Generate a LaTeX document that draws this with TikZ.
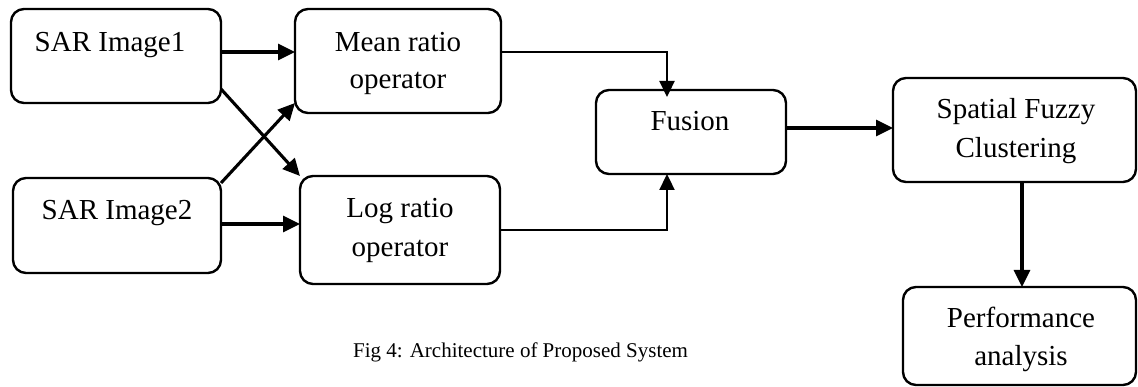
\documentclass[tikz,border=0pt]{standalone}
\usepackage{fontspec}
\setmainfont{Liberation Serif}
\usetikzlibrary{arrows.meta}
\tikzset{
  box/.style={draw=black, line width=2.4pt, rounded corners=13pt, inner sep=0pt, outer sep=0pt, fill=white},
  lbl/.style={anchor=base, inner sep=0pt, font=\fontsize{29}{37}\selectfont},
  captxt/.style={anchor=base west, inner sep=0pt, font=\fontsize{21}{25}\selectfont},
  arr/.style={line width=3.1pt, -{Triangle[length=17pt,width=16pt]}},
  thinarr/.style={line width=2.3pt, -{Triangle[length=16pt,width=15pt]}}
}
\begin{document}
\begin{tikzpicture}[x=1pt,y=-1pt]
\useasboundingbox (0,0) rectangle (1138,387);
% boxes
\node[box, minimum width=210pt, minimum height=94pt] (s1) at (116,56) {};
\node[box, minimum width=208pt, minimum height=95pt] (s2) at (117,225.5) {};
\node[box, minimum width=206pt, minimum height=104pt] (mean) at (398,61) {};
\node[box, minimum width=200pt, minimum height=108pt] (log) at (400,230) {};
\node[box, minimum width=190pt, minimum height=84pt] (fus) at (691,132) {};
\node[box, minimum width=243pt, minimum height=104pt] (sfc) at (1014.5,130) {};
\node[box, minimum width=233pt, minimum height=98pt] (perf) at (1019.5,336) {};
% texts
\node[lbl] (t1) at (110,52) {SAR Image1};
\node[lbl] (t2) at (117,220) {SAR Image2};
\node[lbl] (tm1) at (398,52) {Mean ratio};
\node[lbl] (tm2) at (398,89) {operator};
\node[lbl] (tl1) at (400,218) {Log ratio};
\node[lbl] (tl2) at (400,257) {operator};
\node[lbl] (tf) at (690,131) {Fusion};
\node[lbl] (ts1) at (1016,119) {Spatial Fuzzy};
\node[lbl] (ts2) at (1016,158) {Clustering};
\node[lbl] (tp1) at (1021,328) {Performance};
\node[lbl] (tp2) at (1021,365) {analysis};
\node[captxt] (caption) at (353,358) {Fig 4: Architecture of Proposed System};
% connectors
\draw[arr] ([yshift=4pt]s1.east) -- ([yshift=4pt]s1.east -| mean.west);
\draw[arr] ([yshift=-33pt]s1.east) -- (log.north west);
\draw[arr] ([yshift=-5pt]s2.north east) -- ([yshift=10pt]mean.south west);
\draw[arr] ([yshift=1.5pt]s2.east) -- ([yshift=1.5pt]s2.east -| log.west);
\draw[thinarr] ([yshift=9pt]mean.east) -| ([xshift=-24pt,yshift=-7pt]fus.north);
\draw[thinarr] (log.east) -| ([xshift=-24pt]fus.south);
\draw[arr] ([yshift=4pt]fus.east) -- ([yshift=4pt]fus.east -| sfc.west);
\draw[arr] ([xshift=7.5pt]sfc.south) -- ([xshift=7.5pt]sfc.south |- perf.north);
\end{tikzpicture}
\end{document}
